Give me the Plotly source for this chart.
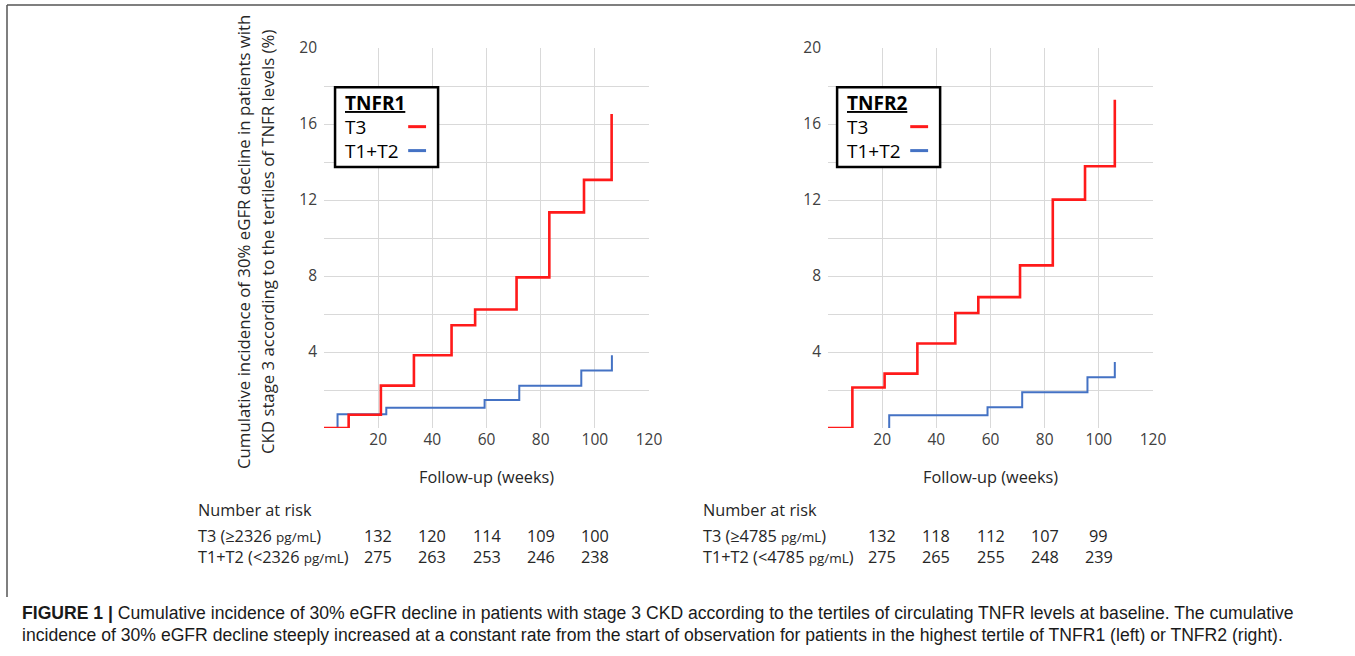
import plotly.graph_objects as go

# ---------------- data ----------------
# TNFR1 panel (left)
tnfr1_t3_weeks = [0, 9.1, 21.0, 33.2, 47.1, 55.8, 71.1, 83.2, 96.0, 106.2]
tnfr1_t3_inc = [0, 0.70, 2.23, 3.83, 5.41, 6.24, 7.93, 11.35, 13.06, 16.52]
tnfr1_t12_weeks = [5.0, 5.0, 23.0, 59.3, 72.1, 95.0, 106.3]
tnfr1_t12_inc = [0, 0.72, 1.07, 1.48, 2.23, 3.02, 3.83]

# TNFR2 panel (right)
tnfr2_t3_weeks = [0, 9.0, 20.9, 33.0, 47.0, 55.5, 70.9, 83.0, 94.9, 105.9]
tnfr2_t3_inc = [0, 2.13, 2.86, 4.45, 6.05, 6.89, 8.56, 12.02, 13.78, 17.28]
tnfr2_t12_weeks = [22.6, 22.6, 58.9, 71.7, 95.8, 105.9]
tnfr2_t12_inc = [0, 0.67, 1.09, 1.88, 2.67, 3.48]

risk_weeks = [20, 40, 60, 80, 100]
tnfr1_risk_t3 = [132, 120, 114, 109, 100]
tnfr1_risk_t12 = [275, 263, 253, 246, 238]
tnfr2_risk_t3 = [132, 118, 112, 107, 99]
tnfr2_risk_t12 = [275, 265, 255, 248, 239]

x_ticks = [0, 20, 40, 60, 80, 100, 120]
x_tick_text = ["", "20", "40", "60", "80", "100", "120"]
y_ticks = [0, 2, 4, 6, 8, 10, 12, 14, 16, 18, 20]
y_tick_text = ["", "", "4", "", "8", "", "12", "", "16", "", "20"]

panel_names = ["TNFR1", "TNFR2"]
cutoffs = ["2326", "4785"]
legend_labels = ["T3", "T1+T2"]

y_title_1 = "Cumulative incidence of 30% eGFR decline in patients with"
y_title_2 = "CKD stage 3 according to the tertiles of TNFR levels (%)"
x_title = "Follow-up (weeks)"
caption_1 = ("<b>FIGURE 1 |</b> Cumulative incidence of 30% eGFR decline in patients with stage 3 CKD "
             "according to the tertiles of circulating TNFR levels at baseline. The cumulative")
caption_2 = ("incidence of 30% eGFR decline steeply increased at a constant rate from the start of "
             "observation for patients in the highest tertile of TNFR1 (left) or TNFR2 (right).")

# ---------------- styling ----------------
W, H = 1355, 656
RED = "#FF1A1A"
BLUE = "#4472C4"
GRID = "#D9D9D9"
FONT = "Open Sans"
CAP_FONT = "Liberation Sans"


def px(xp):
    return xp / W


def py(yp):
    return 1 - yp / H


fig = go.Figure()

panels = [
    dict(xa="x", ya="y", t3=(tnfr1_t3_weeks, tnfr1_t3_inc), t12=(tnfr1_t12_weeks, tnfr1_t12_inc),
         r3=tnfr1_risk_t3, r12=tnfr1_risk_t12, dom=[px(324), px(649)]),
    dict(xa="x2", ya="y2", t3=(tnfr2_t3_weeks, tnfr2_t3_inc), t12=(tnfr2_t12_weeks, tnfr2_t12_inc),
         r3=tnfr2_risk_t3, r12=tnfr2_risk_t12, dom=[px(828), px(1153)]),
]

for p in panels:
    fig.add_trace(go.Scatter(x=p["t12"][0], y=p["t12"][1], mode="lines", line_shape="hv",
                             line=dict(color=BLUE, width=2), xaxis=p["xa"], yaxis=p["ya"],
                             showlegend=False, hoverinfo="skip"))
    fig.add_trace(go.Scatter(x=p["t3"][0], y=p["t3"][1], mode="lines", line_shape="hv",
                             line=dict(color=RED, width=2.6), xaxis=p["xa"], yaxis=p["ya"],
                             showlegend=False, hoverinfo="skip"))

axis_common = dict(showgrid=True, gridcolor=GRID, gridwidth=1, zeroline=False, showline=False,
                   ticks="", tickfont=dict(family=FONT, size=15.5, color="#404040"), fixedrange=True,
                   automargin=False)

ydom = [py(428), py(48)]
fig.update_layout(
    xaxis=dict(domain=panels[0]["dom"], range=[0, 120], tickvals=x_ticks, ticktext=x_tick_text,
               anchor="y", **axis_common),
    yaxis=dict(domain=ydom, range=[0, 20], tickvals=y_ticks, ticktext=y_tick_text, anchor="x",
               ticklabelstandoff=6, **axis_common),
    xaxis2=dict(domain=panels[1]["dom"], range=[0, 120], tickvals=x_ticks, ticktext=x_tick_text,
                anchor="y2", **axis_common),
    yaxis2=dict(domain=ydom, range=[0, 20], tickvals=y_ticks, ticktext=y_tick_text, anchor="x2",
                ticklabelstandoff=6, **axis_common),
)

annotations = []
shapes = []
txt = dict(family=FONT, size=16.3, color="#262626")
leg = dict(family=FONT, size=19, color="black")

for i, p in enumerate(panels):
    xd = p["xa"] + " domain"
    yd = p["ya"] + " domain"
    # legend box
    bx0 = 0.034 if i == 0 else 0.028
    shapes.append(dict(type="rect", xref=xd, yref=yd, x0=bx0, x1=bx0 + 0.317, y0=0.687, y1=0.897,
                       line=dict(color="black", width=2.5), fillcolor="white", layer="above"))
    annotations.append(dict(xref=xd, yref=yd, x=bx0 + 0.024, y=0.855, xanchor="left", yanchor="middle",
                            text="<b><u>" + panel_names[i] + "</u></b>", showarrow=False, font=leg))
    annotations.append(dict(xref=xd, yref=yd, x=bx0 + 0.024, y=0.793, xanchor="left", yanchor="middle",
                            text=legend_labels[0], showarrow=False, font=leg))
    annotations.append(dict(xref=xd, yref=yd, x=bx0 + 0.024, y=0.73, xanchor="left", yanchor="middle",
                            text=legend_labels[1], showarrow=False, font=leg))
    shapes.append(dict(type="line", xref=xd, yref=yd, x0=bx0 + 0.225, x1=bx0 + 0.28, y0=0.793, y1=0.793,
                       line=dict(color=RED, width=3), layer="above"))
    shapes.append(dict(type="line", xref=xd, yref=yd, x0=bx0 + 0.225, x1=bx0 + 0.28, y0=0.73, y1=0.73,
                       line=dict(color=BLUE, width=3), layer="above"))
    # x title
    annotations.append(dict(xref=xd, yref="paper", x=0.5, y=py(477), xanchor="center", yanchor="middle",
                            text=x_title, showarrow=False, font=txt))
    # number at risk
    left_px = 196 if i == 0 else 701
    annotations.append(dict(xref="paper", yref="paper", x=px(left_px), y=py(510), xanchor="left",
                            yanchor="middle", text="Number at risk", showarrow=False, font=txt))
    annotations.append(dict(xref="paper", yref="paper", x=px(left_px), y=py(536), xanchor="left",
                            yanchor="middle",
                            text="T3 (≥" + cutoffs[i] + " <span style='font-size:13.5px'>pg/mL</span>)",
                            showarrow=False, font=txt))
    annotations.append(dict(xref="paper", yref="paper", x=px(left_px), y=py(557), xanchor="left",
                            yanchor="middle",
                            text="T1+T2 (<" + cutoffs[i] + " <span style='font-size:13.5px'>pg/mL</span>)",
                            showarrow=False, font=txt))
    for w, a, b in zip(risk_weeks, p["r3"], p["r12"]):
        annotations.append(dict(xref=p["xa"], yref="paper", x=w, y=py(536), xanchor="center",
                                yanchor="middle", text=str(a), showarrow=False, font=txt))
        annotations.append(dict(xref=p["xa"], yref="paper", x=w, y=py(557), xanchor="center",
                                yanchor="middle", text=str(b), showarrow=False, font=txt))

# y-axis title (two lines)
ytf = dict(family=FONT, size=16.8, color="#262626")
annotations.append(dict(xref="paper", yref="paper", x=px(243), y=py(242), textangle=-90,
                        xanchor="center", yanchor="middle", text=y_title_1, showarrow=False, font=ytf))
annotations.append(dict(xref="paper", yref="paper", x=px(267), y=py(242), textangle=-90,
                        xanchor="center", yanchor="middle", text=y_title_2, showarrow=False, font=ytf))

# caption
cap = dict(family=CAP_FONT, size=17.6, color="#1a1a1a")
annotations.append(dict(xref="paper", yref="paper", x=px(20), y=py(613), xanchor="left", yanchor="middle",
                        text=caption_1, showarrow=False, font=cap))
annotations.append(dict(xref="paper", yref="paper", x=px(20), y=py(635), xanchor="left", yanchor="middle",
                        text=caption_2, showarrow=False, font=cap))

# outer frame (top + left rule)
shapes.append(dict(type="line", xref="paper", yref="paper", x0=px(7), x1=1, y0=py(5), y1=py(5),
                   line=dict(color="#555555", width=1.5)))
shapes.append(dict(type="line", xref="paper", yref="paper", x0=px(7), x1=px(7), y0=py(5), y1=py(597),
                   line=dict(color="#555555", width=1.5)))

fig.update_layout(
    width=W, height=H, margin=dict(l=0, r=0, t=0, b=0, autoexpand=False),
    paper_bgcolor="white", plot_bgcolor="white",
    annotations=annotations, shapes=shapes, showlegend=False,
    font=dict(family=FONT),
)

fig.write_html(
    "out.html",
    config={"displayModeBar": False},
    post_script=("document.body.style.margin='0';document.body.style.padding='0';"
                 "document.body.style.overflow='hidden';"
                 "document.documentElement.style.overflow='hidden';"),
)
